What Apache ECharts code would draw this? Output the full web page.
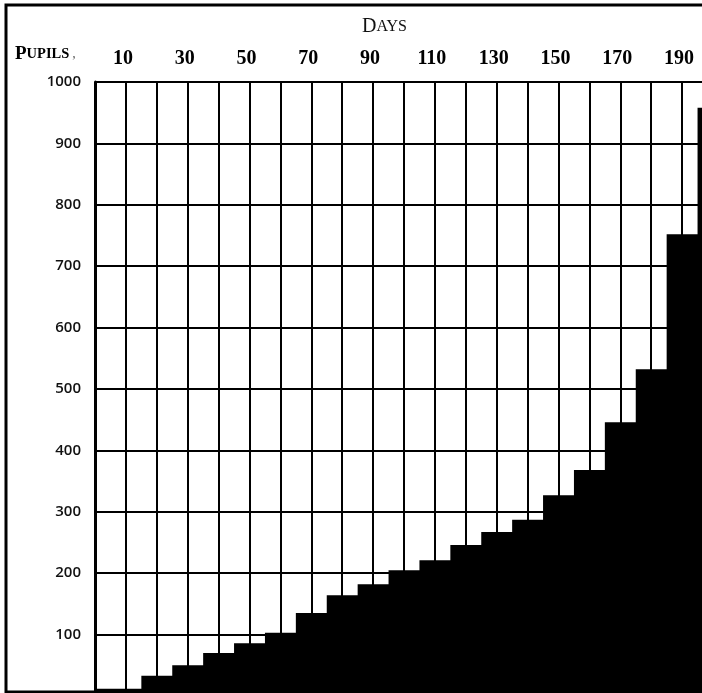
<!DOCTYPE html>
<html>
<head>
<meta charset="utf-8">
<script src="https://cdn.jsdelivr.net/npm/echarts@6/dist/echarts.min.js"></script>
<style>html,body{margin:0;padding:0;background:#fff;}#c{width:702px;height:693px;}</style>
</head>
<body>
<div id="c"></div>
<script>
// Days (bar centres) and number of pupils
const days = [0, 10, 20, 30, 40, 50, 60, 70, 80, 90, 100, 110, 120, 130, 140, 150, 160, 170, 180, 190, 200];
const pupils = [12, 12, 33, 50, 70, 86, 103, 135, 164, 182, 205, 221, 246, 267, 287, 327, 368, 446, 532, 752, 958];
const dayLabels = [10, 30, 50, 70, 90, 110, 130, 150, 170, 190];
const pupilLabels = [100, 200, 300, 400, 500, 600, 700, 800, 900, 1000];

const chart = echarts.init(document.getElementById('c'), null, {renderer: 'canvas'});
const serif = '"Liberation Serif", "DejaVu Serif", serif';
chart.setOption({
  animation: false,
  backgroundColor: '#ffffff',
  grid: {left: 95, top: 82, width: 618, height: 614, containLabel: false, outerBoundsMode: 'none'},
  xAxis: {
    type: 'value', position: 'top', min: 0, max: 200, interval: 10,
    axisLine: {show: true, lineStyle: {color: '#000', width: 3}},
    axisTick: {show: false},
    axisLabel: {
      margin: 13, color: '#000', fontFamily: serif, fontWeight: 'bold', fontSize: 20,
      padding: [0, 6, 0, 0],
      formatter: v => dayLabels.indexOf(v) >= 0 ? String(v) : ''
    },
    splitLine: {show: true, lineStyle: {color: '#000', width: 2}}
  },
  yAxis: {
    type: 'value', min: 0, max: 1000, interval: 100,
    axisLine: {show: true, lineStyle: {color: '#000', width: 3}},
    axisTick: {show: false},
    axisLabel: {
      margin: 14, color: '#111', fontFamily: '"Open Sans", sans-serif', fontWeight: 600, fontSize: 15,
      formatter: v => pupilLabels.indexOf(v) >= 0 ? String(v) : ''
    },
    splitLine: {show: true, lineStyle: {color: '#000', width: 2}}
  },
  series: [{
    type: 'line', step: 'middle', symbol: 'none',
    data: days.map((d, i) => [d, pupils[i]]),
    lineStyle: {color: '#000', width: 0},
    areaStyle: {color: '#000', opacity: 1},
    z: 5
  }],
  graphic: [
    {type: 'rect', shape: {x: 6, y: 5, width: 720, height: 687}, style: {fill: 'none', stroke: '#000', lineWidth: 3}, z: 100},
    {type: 'text', left: 362, top: 17, style: {
      text: '{a|D}{b|AYS}', rich: {
        a: {fontFamily: serif, fontSize: 20, fill: '#111'},
        b: {fontFamily: serif, fontSize: 16, fill: '#111'}
      }}},
    {type: 'text', left: 15, top: 45, style: {
      text: '{a|P}{b|UPILS}{c|,}', rich: {
        a: {fontFamily: serif, fontSize: 19, fontWeight: 'bold', fill: '#000'},
        b: {fontFamily: serif, fontSize: 14.5, fontWeight: 'bold', fill: '#000'},
        c: {fontFamily: serif, fontSize: 14, fill: '#666', padding: [0, 0, 0, 3]}
      }}}
  ]
});
</script>
</body>
</html>
